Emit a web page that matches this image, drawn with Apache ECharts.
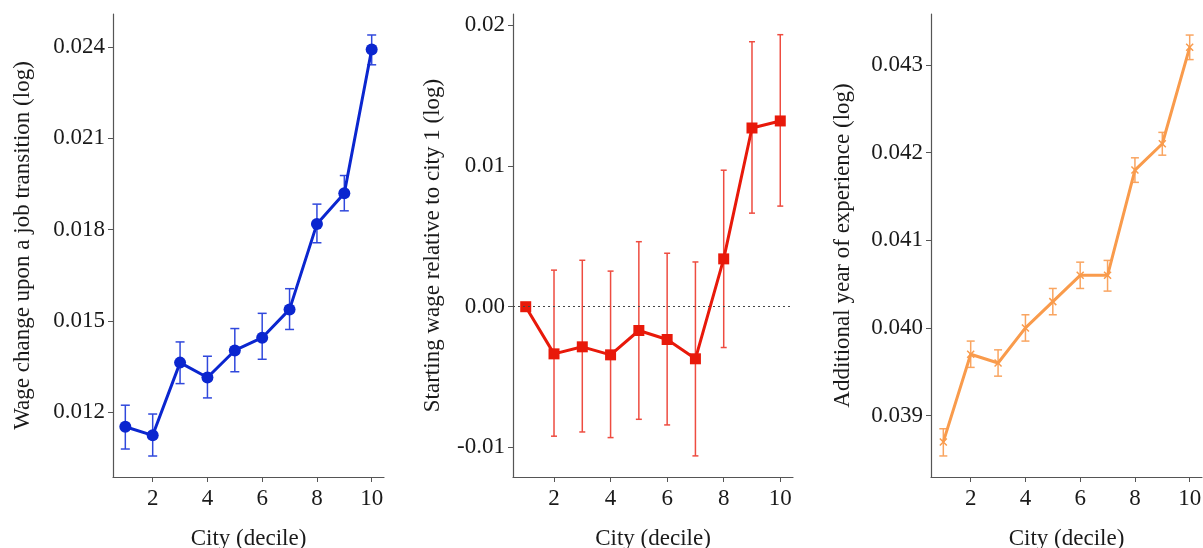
<!DOCTYPE html>
<html>
<head>
<meta charset="utf-8">
<script src="https://cdn.jsdelivr.net/npm/echarts@6/dist/echarts.min.js"></script>
<style>
html,body{margin:0;padding:0;background:#fff;}
#chart{width:1203px;height:548px;}
</style>
</head>
<body>
<div id="chart"></div>
<script>
// ---- data ----
const cities = [1, 2, 3, 4, 5, 6, 7, 8, 9, 10];
const xTicks = [2, 4, 6, 8, 10];

const wageChange   = [0.01152, 0.01124, 0.01363, 0.01314, 0.01403, 0.01445, 0.01538, 0.01819, 0.01920, 0.02392];
const wageChangeLo = [0.01079, 0.01056, 0.01294, 0.01247, 0.01333, 0.01374, 0.01472, 0.01757, 0.01862, 0.02342];
const wageChangeHi = [0.01223, 0.01194, 0.01431, 0.01384, 0.01475, 0.01525, 0.01606, 0.01884, 0.01978, 0.02440];
const wageChangeTicks = [0.012, 0.015, 0.018, 0.021, 0.024];

const startWage   = [0.0000, -0.00335, -0.00285, -0.00342, -0.00169, -0.00233, -0.00370, 0.00340, 0.01270, 0.01320];
const startWageLo = [null, -0.0092, -0.0089, -0.0093, -0.0080, -0.0084, -0.0106, -0.0029, 0.00665, 0.00715];
const startWageHi = [null, 0.0026, 0.0033, 0.00253, 0.00462, 0.0038, 0.00318, 0.0097, 0.01883, 0.01933];
const startWageTicks = [-0.01, 0, 0.01, 0.02];

const experience   = [0.03870, 0.03970, 0.03960, 0.04000, 0.04030, 0.04060, 0.04060, 0.04180, 0.04210, 0.04320];
const experienceLo = [0.03854, 0.03955, 0.03945, 0.03985, 0.04015, 0.04045, 0.04042, 0.04166, 0.04197, 0.04306];
const experienceHi = [0.03885, 0.03985, 0.03975, 0.04015, 0.04045, 0.04075, 0.04077, 0.04194, 0.04223, 0.04334];
const experienceTicks = [0.039, 0.040, 0.041, 0.042, 0.043];

const xTitle = 'City (decile)';
const yTitles = ['Wage change upon a job transition (log)', 'Starting wage relative to city 1 (log)', 'Additional year of experience (log)'];

// ---- helpers ----
const FONT = 'Liberation Serif';
const TXT = '#1a1a1a';
const AX = '#555555';

function pairs(xs, ys) { return xs.map((x, i) => [x, ys[i]]); }
function errData(xs, lo, hi) {
  const out = [];
  xs.forEach((x, i) => { if (lo[i] !== null && hi[i] !== null) out.push([x, lo[i], hi[i]]); });
  return out;
}
function errRender(color, half, width) {
  return function (params, api) {
    const x = api.value(0);
    const pLo = api.coord([x, api.value(1)]);
    const pHi = api.coord([x, api.value(2)]);
    const st = { stroke: color, lineWidth: width };
    return {
      type: 'group',
      children: [
        { type: 'line', shape: { x1: pLo[0], y1: pLo[1], x2: pHi[0], y2: pHi[1] }, style: st },
        { type: 'line', shape: { x1: pLo[0] - half, y1: pLo[1], x2: pLo[0] + half, y2: pLo[1] }, style: st },
        { type: 'line', shape: { x1: pHi[0] - half, y1: pHi[1], x2: pHi[0] + half, y2: pHi[1] }, style: st }
      ]
    };
  };
}
function xAxisCfg(idx) {
  return {
    type: 'value', gridIndex: idx, min: 0.55, max: 10.45,
    name: xTitle, nameLocation: 'middle', nameGap: 50,
    nameTextStyle: { fontFamily: FONT, fontSize: 23, color: TXT },
    axisLine: { show: true, onZero: false, lineStyle: { color: AX, width: 1.2 } },
    axisTick: { show: true, length: 5, customValues: xTicks, lineStyle: { color: AX } },
    axisLabel: { customValues: xTicks, fontFamily: FONT, fontSize: 23, color: TXT, margin: 10 },
    splitLine: { show: false }
  };
}
function yAxisCfg(idx, min, max, ticks, dec, title, gap) {
  return {
    type: 'value', gridIndex: idx, min: min, max: max,
    name: title, nameLocation: 'middle', nameRotate: 90, nameGap: gap,
    nameTextStyle: { fontFamily: FONT, fontSize: 23, color: TXT },
    axisLine: { show: true, onZero: false, lineStyle: { color: AX, width: 1.2 } },
    axisTick: { show: true, length: 5, customValues: ticks, lineStyle: { color: AX } },
    axisLabel: { customValues: ticks, fontFamily: FONT, fontSize: 23, color: TXT, margin: 8,
      formatter: v => Number(v).toFixed(dec) },
    splitLine: { show: false }
  };
}

const BLUE = '#0b26cf', BLUE_E = '#3048dc';
const RED = '#e8190a', RED_E = '#ee4c40';
const ORANGE = '#f99b4c', ORANGE_E = '#f9a561';

const option = {
  animation: false,
  backgroundColor: '#ffffff',
  grid: [
    { left: 113, top: 14, width: 271, height: 463, outerBoundsMode: 'none', containLabel: false },
    { left: 513, top: 14, width: 280, height: 463, outerBoundsMode: 'none', containLabel: false },
    { left: 931, top: 14, width: 271, height: 463, outerBoundsMode: 'none', containLabel: false }
  ],
  xAxis: [xAxisCfg(0), xAxisCfg(1), xAxisCfg(2)],
  yAxis: [
    yAxisCfg(0, 0.00987, 0.02509, wageChangeTicks, 3, yTitles[0], 79),
    yAxisCfg(1, -0.0121, 0.0208, startWageTicks, 2, yTitles[1], 69),
    yAxisCfg(2, 0.0383, 0.04358, experienceTicks, 3, yTitles[2], 77)
  ],
  series: [
    { type: 'custom', xAxisIndex: 0, yAxisIndex: 0, z: 1, silent: true,
      renderItem: errRender(BLUE_E, 4.5, 1.5), data: errData(cities, wageChangeLo, wageChangeHi) },
    { type: 'line', xAxisIndex: 0, yAxisIndex: 0, z: 3, data: pairs(cities, wageChange),
      symbol: 'circle', symbolSize: 12, lineStyle: { color: BLUE, width: 3 },
      itemStyle: { color: BLUE } },

    { type: 'custom', xAxisIndex: 1, yAxisIndex: 1, z: 1, silent: true,
      renderItem: errRender(RED_E, 3, 1.5), data: errData(cities, startWageLo, startWageHi) },
    { type: 'line', xAxisIndex: 1, yAxisIndex: 1, z: 3, data: pairs(cities, startWage),
      symbol: 'rect', symbolSize: 11, lineStyle: { color: RED, width: 3 },
      itemStyle: { color: RED },
      markLine: { silent: true, symbol: 'none', label: { show: false },
        lineStyle: { color: '#444', type: [2, 3], width: 1 },
        data: [{ yAxis: 0 }] } },

    { type: 'custom', xAxisIndex: 2, yAxisIndex: 2, z: 1, silent: true,
      renderItem: errRender(ORANGE_E, 4, 1.5), data: errData(cities, experienceLo, experienceHi) },
    { type: 'line', xAxisIndex: 2, yAxisIndex: 2, z: 3, data: pairs(cities, experience),
      symbol: 'path://M0,0L10,10M10,0L0,10', symbolSize: 7,
      lineStyle: { color: ORANGE, width: 3 },
      itemStyle: { color: ORANGE, borderColor: ORANGE, borderWidth: 1.5 } }
  ]
};

const chart = echarts.init(document.getElementById('chart'), null, { renderer: 'canvas' });
chart.setOption(option);
</script>
</body>
</html>
